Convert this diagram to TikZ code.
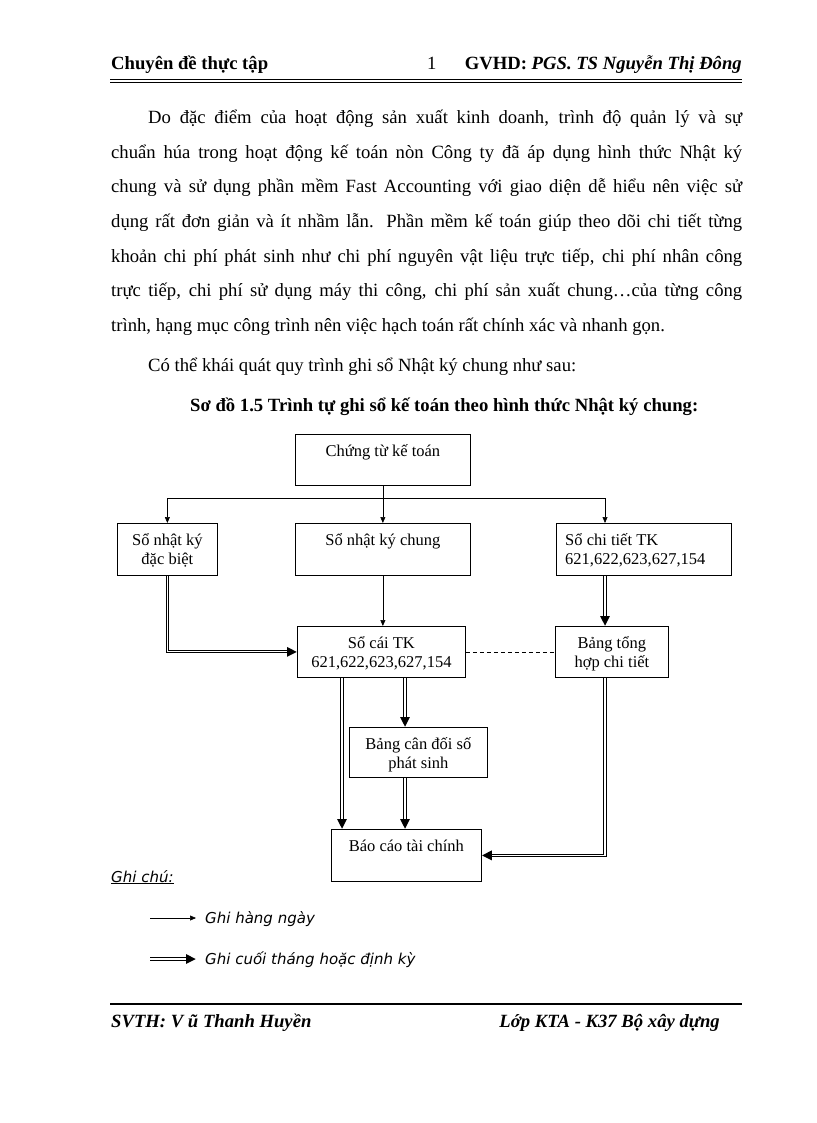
\documentclass[tikz,border=0pt]{standalone}
\usepackage{fontspec}
\setmainfont{Liberation Serif}
\newfontfamily\legfont{DejaVu Sans}
\usetikzlibrary{arrows.meta,calc}
\begin{document}
\begin{tikzpicture}[x=1pt,y=-1pt,
 box/.style={draw, line width=0.75pt, inner sep=0pt, anchor=north west},
 btxt/.style={font=\fontsize{16.5}{20}\selectfont, inner sep=0pt, anchor=base},
 ln/.style={line width=0.6pt},
 arr/.style={line width=0.6pt, -{Triangle[length=6pt,width=5pt]}},
 dbl/.style={line width=3.2pt, -{Triangle[length=10pt,width=9pt]},
   postaction={draw=white, line width=1.2pt, -, shorten >=10pt}},
 dsh/.style={line width=0.6pt, dash pattern=on 4pt off 3pt},
 body/.style={font=\fontsize{18.67}{22}\selectfont, inner sep=0pt, anchor=base west},
 leg/.style={font=\legfont\itshape\fontsize{15}{18}\selectfont, inner sep=0pt, anchor=base west}]
\useasboundingbox (0,0) rectangle (816,1123);
\fill[white] (0,0) rectangle (816,1123);
% header
\node[body, font=\fontsize{18.67}{22}\selectfont\bfseries] (h1) at (111,70) {Chuyên đề thực tập};
\node[body] (h2) at (427,70) {1};
\node[body, anchor=base east, font=\fontsize{18.67}{22}\selectfont\bfseries] (h3) at (742,70) {GVHD: \itshape PGS. TS Nguyễn Thị Đông};
\draw[line width=1.6pt] (110,79.5) -- (742,79.5);
\draw[line width=0.6pt] (110,82.3) -- (742,82.3);
% body
\node[body] (p1) at (148,124) {\makebox[594pt][s]{Do đặc điểm của hoạt động sản xuất kinh doanh, trình độ quản lý và sự}};
\node[body] (p2) at (111,158.5) {\makebox[631pt][s]{chuẩn húa trong hoạt động kế toán nòn Công ty đã áp dụng hình thức Nhật ký}};
\node[body] (p3) at (111,193) {\makebox[631pt][s]{chung và sử dụng phần mềm Fast Accounting với giao diện dễ hiểu nên việc sử}};
\node[body] (p4) at (111,227.5) {\makebox[631pt][s]{dụng rất đơn giản và ít nhầm lẫn. Phần mềm kế toán giúp theo dõi chi tiết từng}};
\node[body] (p5) at (111,262) {\makebox[631pt][s]{khoản chi phí phát sinh như chi phí nguyên vật liệu trực tiếp, chi phí nhân công}};
\node[body] (p6) at (111,296.5) {\makebox[631pt][s]{trực tiếp, chi phí sử dụng máy thi công, chi phí sản xuất chung…của từng công}};
\node[body] (p7) at (111,331) {trình, hạng mục công trình nên việc hạch toán rất chính xác và nhanh gọn.};
\node[body] (p8) at (148,371) {Có thể khái quát quy trình ghi sổ Nhật ký chung như sau:};
\node[body, font=\fontsize{18.67}{22}\selectfont\bfseries] (title) at (190,411) {Sơ đồ 1.5 Trình tự ghi sổ kế toán theo hình thức Nhật ký chung:};
% boxes
\node[box, minimum width=175pt, minimum height=51pt] (ct) at (295,434) {};
\node[box, minimum width=100pt, minimum height=52pt] (db) at (117,523) {};
\node[box, minimum width=175pt, minimum height=52pt] (nkc) at (295,523) {};
\node[box, minimum width=175pt, minimum height=52pt] (ch) at (556,523) {};
\node[box, minimum width=168pt, minimum height=51pt] (sc) at (297,626) {};
\node[box, minimum width=113pt, minimum height=51pt] (th) at (555,626) {};
\node[box, minimum width=138pt, minimum height=50pt] (cd) at (349,727) {};
\node[box, minimum width=150pt, minimum height=52pt] (bc) at (331,829) {};
% box texts
\node[btxt] (ctt) at ($(ct.north)+(0,22)$) {Chứng từ kế toán};
\node[btxt] (dbt1) at ($(db.north)+(0,22)$) {Sổ nhật ký};
\node[btxt] (dbt2) at ($(db.north)+(0,41)$) {đặc biệt};
\node[btxt] (nkct) at ($(nkc.north)+(0,22)$) {Sổ nhật ký chung};
\node[btxt, anchor=base west] (cht1) at ($(ch.north west)+(9,22)$) {Sổ chi tiết TK};
\node[btxt, anchor=base west] (cht2) at ($(ch.north west)+(9,41)$) {621,622,623,627,154};
\node[btxt] (sct1) at ($(sc.north)+(0,22)$) {Sổ cái TK};
\node[btxt] (sct2) at ($(sc.north)+(0,41)$) {621,622,623,627,154};
\node[btxt] (tht1) at ($(th.north)+(0,22)$) {Bảng tổng};
\node[btxt] (tht2) at ($(th.north)+(0,41)$) {hợp chi tiết};
\node[btxt] (cdt1) at ($(cd.north)+(0,22)$) {Bảng cân đối số};
\node[btxt] (cdt2) at ($(cd.north)+(0,41)$) {phát sinh};
\node[btxt] (bct) at ($(bc.north)+(0,22)$) {Báo cáo tài chính};
% connectors
\coordinate (jn) at (382,498);
\coordinate (colR) at (605,0);
\coordinate (colM) at (405,0);
\coordinate (colL) at (342,0);
\draw[ln] (ct.south) -- (ct.south |- jn);
\draw[ln] (jn -| db.south) -- (jn -| colR);
\draw[arr] (jn -| db.north) -- (db.north);
\draw[arr] (ct.south |- jn) -- (nkc.north);
\draw[arr] (jn -| colR) -- (ch.north -| colR);
\draw[arr] (nkc.south) -- (nkc.south |- sc.north);
\draw[dbl] (db.south) |- (sc.west);
\draw[dbl] (ch.south -| colR) -- (th.north -| colR);
\draw[dsh] (sc.east) -- (th.west);
\draw[dbl] (sc.south -| colM) -- (cd.north -| colM);
\draw[dbl] (cd.south -| colM) -- (bc.north -| colM);
\draw[dbl] (sc.south -| colL) -- (bc.north -| colL);
\draw[dbl] (th.south -| colR) |- (bc.east);
% legend
\node[leg] (gc) at (111,882) {\underline{Ghi chú:}};
\coordinate (l1a) at (150,918);
\coordinate (l1b) at (196,918);
\coordinate (l2a) at (150,959);
\coordinate (l2b) at (196,959);
\draw[arr] (l1a) -- (l1b);
\draw[dbl] (l2a) -- (l2b);
\node[leg] (lg1) at (205,923) {Ghi hàng ngày};
\node[leg] (lg2) at (205,964) {Ghi cuối tháng hoặc định kỳ};
% footer
\draw[line width=1.8pt] (110,1004) -- (742,1004);
\node[body, font=\fontsize{18.67}{22}\selectfont\bfseries\itshape] (f1) at (111,1027) {SVTH: V ũ Thanh Huyền};
\node[body, anchor=base east, font=\fontsize{18.67}{22}\selectfont\bfseries\itshape] (f2) at (720,1027) {Lớp KTA - K37 Bộ xây dựng};
\end{tikzpicture}
\end{document}
